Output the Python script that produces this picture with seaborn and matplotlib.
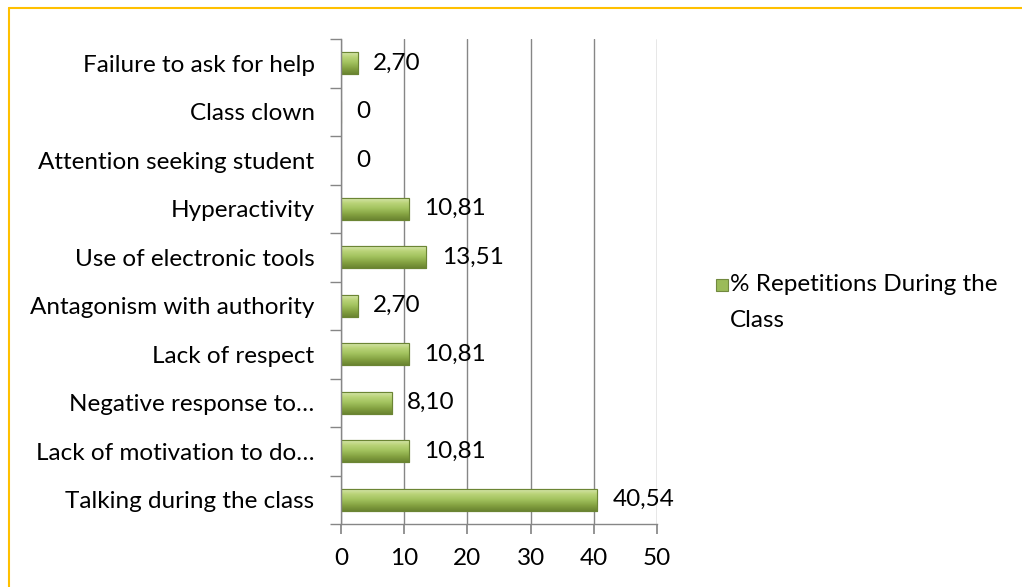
import numpy as np
import pandas as pd
import matplotlib
matplotlib.use("Agg")
import matplotlib.pyplot as plt
import seaborn as sns
from matplotlib.lines import Line2D
from matplotlib.colors import LinearSegmentedColormap
from matplotlib.patches import Rectangle

categories = ["Failure to ask for help", "Class clown", "Attention seeking student",
              "Hyperactivity", "Use of electronic tools", "Antagonism with authority",
              "Lack of respect", "Negative response to…", "Lack of motivation to do…",
              "Talking during the class"]
values = [2.70, 0, 0, 10.81, 13.51, 2.70, 10.81, 8.10, 10.81, 40.54]
value_labels = ["2,70", "0", "0", "10,81", "13,51", "2,70", "10,81", "8,10", "10,81", "40,54"]
series_name = "% Repetitions During the\nClass"
x_ticks = [0, 10, 20, 30, 40, 50]

sns.set_theme(style="white")
plt.rcParams['font.family'] = ['Lato', 'DejaVu Sans']
FS = 17.5

df = pd.DataFrame({"cat": categories, "val": values})

fig = plt.figure(figsize=(10.22, 5.87), dpi=100)
ax = fig.add_axes([341/1022, 1 - 524/587, (657-341)/1022, (524-39)/587])

sns.barplot(data=df, x="val", y="cat", ax=ax, color="#9bbb59", width=0.46,
            edgecolor="#71893f", linewidth=0.8, orient="h")

cmap = LinearSegmentedColormap.from_list("cyl", ["#dbe8b4", "#bad479", "#a2c25e", "#85a342", "#6a8430"])
grad = np.linspace(0, 1, 64).reshape(-1, 1)
for p in list(ax.patches):
    x0, y0 = p.get_x(), p.get_y()
    w, h = p.get_width(), p.get_height()
    if w <= 0:
        continue
    im = ax.imshow(grad, cmap=cmap, aspect="auto", extent=[x0, x0 + w, y0 + h, y0],
                   origin="upper", zorder=p.get_zorder() + 0.1, interpolation="bilinear")
    im.set_clip_path(p)
    border = Rectangle((x0, y0), w, h, fill=False, edgecolor="#6b8534", linewidth=0.8,
                       zorder=p.get_zorder() + 0.2)
    ax.add_patch(border)

ax.set_xlim(0, 50)
ax.set_ylim(len(categories) - 0.5, -0.5)
ax.set_xticks(x_ticks)
ax.set_xticklabels([str(t) for t in x_ticks], fontsize=FS)
ax.set_yticks(range(len(categories)))
ax.set_yticklabels(categories, fontsize=FS)
ax.set_xlabel("")
ax.set_ylabel("")
ax.grid(axis="x", color="#868686", linewidth=1)
ax.set_axisbelow(True)
for s in ["top", "right"]:
    ax.spines[s].set_visible(False)
for s in ["left", "bottom"]:
    ax.spines[s].set_color("#868686")
    ax.spines[s].set_linewidth(1)

ax.tick_params(axis="y", which="major", length=0, pad=19, colors="black", left=True)
ax.tick_params(axis="x", which="major", length=7, direction="out", color="#868686",
               pad=10, labelcolor="black", bottom=True)
ax.set_yticks(np.arange(-0.5, len(categories), 1.0), minor=True)
ax.tick_params(axis="y", which="minor", length=8, direction="out", color="#868686", left=True)

for i, (v, lab) in enumerate(zip(values, value_labels)):
    ax.text(v + 2.4, i, lab, va="center", ha="left", fontsize=FS, color="black")

# legend (drawn manually to match layout: key aligned with first line)
key = Rectangle((716/1022, 1 - 291/587), 12/1022, 12/587, transform=fig.transFigure,
                facecolor="#9bbb59", edgecolor="#71893f", linewidth=0.8)
fig.add_artist(key)
fig.text(730/1022, 1 - 274/587, series_name, fontsize=FS, ha="left", va="top",
         linespacing=1.9, color="black")

fig.add_artist(Line2D([9/1022, 9/1022], [0, 1 - 8/587], color="#ffc000", linewidth=1.5))
fig.add_artist(Line2D([9/1022, 1.0], [1 - 8/587, 1 - 8/587], color="#ffc000", linewidth=1.5))

fig.savefig("out.png", dpi=100, facecolor="white")
